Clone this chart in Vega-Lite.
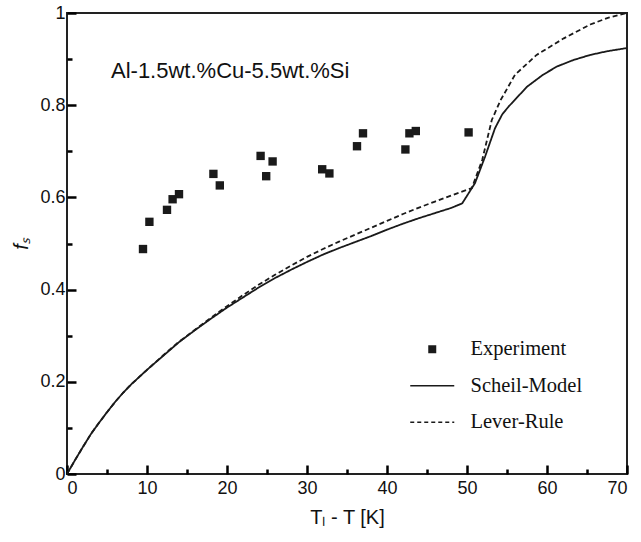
{
  "$schema": "https://vega.github.io/schema/vega-lite/v6.json",
  "autosize": "none",
  "width": 560,
  "height": 461,
  "padding": {"left": 67, "top": 13, "right": 14, "bottom": 68},
  "background": "white",
  "title": {
    "text": "Al-1.5wt.%Cu-5.5wt.%Si",
    "anchor": "start",
    "frame": "group",
    "orient": "top",
    "offset": 0,
    "dx": 44,
    "dy": 79,
    "font": "Liberation Sans",
    "fontSize": 22,
    "fontWeight": "normal",
    "color": "#111111"
  },
  "config": {
    "view": {"stroke": "#222222", "strokeWidth": 2}
  },
  "datasets": {
    "exp": [
      {"x": 9.5, "fs": 0.488},
      {"x": 10.3, "fs": 0.547},
      {"x": 12.5, "fs": 0.573},
      {"x": 13.2, "fs": 0.596},
      {"x": 14.0, "fs": 0.607},
      {"x": 18.3, "fs": 0.651},
      {"x": 19.1, "fs": 0.626},
      {"x": 24.2, "fs": 0.69},
      {"x": 24.9, "fs": 0.646},
      {"x": 25.7, "fs": 0.678},
      {"x": 31.9, "fs": 0.661},
      {"x": 32.8, "fs": 0.652},
      {"x": 36.25, "fs": 0.711},
      {"x": 37.0, "fs": 0.739},
      {"x": 42.3, "fs": 0.704},
      {"x": 42.8, "fs": 0.739},
      {"x": 43.6, "fs": 0.744},
      {"x": 50.2, "fs": 0.741}
    ],
    "curves": [
      {"series": "Scheil-Model", "x": 0, "fs": 0},
      {"series": "Scheil-Model", "x": 1, "fs": 0.03},
      {"series": "Scheil-Model", "x": 2, "fs": 0.059},
      {"series": "Scheil-Model", "x": 3, "fs": 0.087},
      {"series": "Scheil-Model", "x": 4, "fs": 0.111},
      {"series": "Scheil-Model", "x": 5, "fs": 0.134},
      {"series": "Scheil-Model", "x": 6, "fs": 0.156},
      {"series": "Scheil-Model", "x": 7, "fs": 0.176},
      {"series": "Scheil-Model", "x": 8, "fs": 0.194},
      {"series": "Scheil-Model", "x": 9, "fs": 0.21},
      {"series": "Scheil-Model", "x": 10, "fs": 0.226},
      {"series": "Scheil-Model", "x": 12, "fs": 0.256},
      {"series": "Scheil-Model", "x": 14, "fs": 0.286},
      {"series": "Scheil-Model", "x": 16, "fs": 0.312},
      {"series": "Scheil-Model", "x": 18, "fs": 0.337},
      {"series": "Scheil-Model", "x": 20, "fs": 0.361},
      {"series": "Scheil-Model", "x": 22, "fs": 0.383},
      {"series": "Scheil-Model", "x": 24, "fs": 0.405},
      {"series": "Scheil-Model", "x": 26, "fs": 0.425},
      {"series": "Scheil-Model", "x": 28, "fs": 0.443},
      {"series": "Scheil-Model", "x": 30, "fs": 0.46},
      {"series": "Scheil-Model", "x": 32, "fs": 0.476},
      {"series": "Scheil-Model", "x": 34, "fs": 0.49},
      {"series": "Scheil-Model", "x": 36, "fs": 0.503},
      {"series": "Scheil-Model", "x": 38, "fs": 0.516},
      {"series": "Scheil-Model", "x": 40, "fs": 0.53},
      {"series": "Scheil-Model", "x": 42, "fs": 0.543},
      {"series": "Scheil-Model", "x": 44, "fs": 0.555},
      {"series": "Scheil-Model", "x": 46, "fs": 0.566},
      {"series": "Scheil-Model", "x": 48, "fs": 0.577},
      {"series": "Scheil-Model", "x": 49.4, "fs": 0.587},
      {"series": "Scheil-Model", "x": 51, "fs": 0.631},
      {"series": "Scheil-Model", "x": 52.25, "fs": 0.688},
      {"series": "Scheil-Model", "x": 53.5, "fs": 0.75},
      {"series": "Scheil-Model", "x": 54.4, "fs": 0.78},
      {"series": "Scheil-Model", "x": 55.2, "fs": 0.797},
      {"series": "Scheil-Model", "x": 57.5, "fs": 0.84},
      {"series": "Scheil-Model", "x": 59.5, "fs": 0.866},
      {"series": "Scheil-Model", "x": 61.25, "fs": 0.884},
      {"series": "Scheil-Model", "x": 63.3, "fs": 0.898},
      {"series": "Scheil-Model", "x": 65.4, "fs": 0.909},
      {"series": "Scheil-Model", "x": 67.5, "fs": 0.917},
      {"series": "Scheil-Model", "x": 70, "fs": 0.924},
      {"series": "Lever-Rule", "x": 0, "fs": 0},
      {"series": "Lever-Rule", "x": 1, "fs": 0.03},
      {"series": "Lever-Rule", "x": 2, "fs": 0.059},
      {"series": "Lever-Rule", "x": 3, "fs": 0.087},
      {"series": "Lever-Rule", "x": 4, "fs": 0.111},
      {"series": "Lever-Rule", "x": 5, "fs": 0.134},
      {"series": "Lever-Rule", "x": 6, "fs": 0.156},
      {"series": "Lever-Rule", "x": 7, "fs": 0.176},
      {"series": "Lever-Rule", "x": 8, "fs": 0.194},
      {"series": "Lever-Rule", "x": 9, "fs": 0.21},
      {"series": "Lever-Rule", "x": 10, "fs": 0.226},
      {"series": "Lever-Rule", "x": 12, "fs": 0.257},
      {"series": "Lever-Rule", "x": 14, "fs": 0.287},
      {"series": "Lever-Rule", "x": 16, "fs": 0.313},
      {"series": "Lever-Rule", "x": 18, "fs": 0.339},
      {"series": "Lever-Rule", "x": 20, "fs": 0.364},
      {"series": "Lever-Rule", "x": 22, "fs": 0.388},
      {"series": "Lever-Rule", "x": 24, "fs": 0.411},
      {"series": "Lever-Rule", "x": 26, "fs": 0.432},
      {"series": "Lever-Rule", "x": 28, "fs": 0.452},
      {"series": "Lever-Rule", "x": 30, "fs": 0.471},
      {"series": "Lever-Rule", "x": 32, "fs": 0.488},
      {"series": "Lever-Rule", "x": 34, "fs": 0.504},
      {"series": "Lever-Rule", "x": 36, "fs": 0.519},
      {"series": "Lever-Rule", "x": 38, "fs": 0.534},
      {"series": "Lever-Rule", "x": 40, "fs": 0.549},
      {"series": "Lever-Rule", "x": 42, "fs": 0.564},
      {"series": "Lever-Rule", "x": 44, "fs": 0.578},
      {"series": "Lever-Rule", "x": 46, "fs": 0.591},
      {"series": "Lever-Rule", "x": 48, "fs": 0.604},
      {"series": "Lever-Rule", "x": 50.6, "fs": 0.62},
      {"series": "Lever-Rule", "x": 51.9, "fs": 0.681},
      {"series": "Lever-Rule", "x": 53.1, "fs": 0.768},
      {"series": "Lever-Rule", "x": 54.2, "fs": 0.811},
      {"series": "Lever-Rule", "x": 56.0, "fs": 0.866},
      {"series": "Lever-Rule", "x": 58.7, "fs": 0.909},
      {"series": "Lever-Rule", "x": 62.1, "fs": 0.945},
      {"series": "Lever-Rule", "x": 65.4, "fs": 0.975},
      {"series": "Lever-Rule", "x": 67.7, "fs": 0.99},
      {"series": "Lever-Rule", "x": 70, "fs": 1.0}
    ]
  },
  "encoding": {
    "x": {
      "field": "x", "type": "quantitative",
      "scale": {"domain": [0, 70], "nice": false, "zero": false},
      "axis": {
        "title": "Tₗ - T [K]",
        "domain": false,
        "grid": false,
        "values": [0,5,10,15,20,25,30,35,40,45,50,55,60,65,70],
        "labelExpr": "datum.value % 10 === 0 ? datum.label : ''",
        "tickSize": {"condition": {"test": "datum.value % 10 === 0", "value": -9}, "value": -5},
        "tickColor": "#000000",
        "tickWidth": 2.5,
        "labelFont": "Liberation Sans",
        "labelFontSize": 18,
        "labelColor": "#111111",
        "titleFont": "Liberation Sans",
        "titleFontSize": 20,
        "titleFontWeight": "normal",
        "titleColor": "#111111",
        "labelPadding": 14,
        "titlePadding": 10
      }
    },
    "y": {
      "field": "fs", "type": "quantitative",
      "scale": {"domain": [0, 1], "nice": false},
      "axis": {
        "title": "fₛ",
        "domain": false,
        "grid": false,
        "titleFontStyle": "italic",
        "titleAngle": -90,
        "values": [0,0.1,0.2,0.3,0.4,0.5,0.6,0.7,0.8,0.9,1],
        "format": "~g",
        "labelExpr": "round(datum.value*10) % 2 === 0 ? datum.label : ''",
        "tickSize": {"condition": {"test": "round(datum.value*10) % 2 === 0", "value": -9}, "value": -5},
        "tickColor": "#000000",
        "tickWidth": 2.5,
        "labelFont": "Liberation Sans",
        "labelFontSize": 18,
        "labelColor": "#111111",
        "titleFont": "Liberation Sans",
        "titleFontSize": 20,
        "titleFontWeight": "normal",
        "titleColor": "#111111",
        "labelPadding": 11,
        "titlePadding": 8
      }
    }
  },
  "layer": [
    {
      "data": {"name": "curves"},
      "mark": {"type": "line", "strokeWidth": 1.8, "clip": true},
      "encoding": {
        "detail": {"field": "series"},
        "color": {
          "field": "series", "type": "nominal",
          "scale": {"domain": ["Experiment", "Scheil-Model", "Lever-Rule"], "range": ["#1a1a1a", "#1a1a1a", "#1a1a1a"]},
          "legend": {
            "orient": "none",
            "legendX": 355,
            "legendY": 326,
            "title": null,
            "labelFont": "Liberation Serif",
            "labelFontSize": 20.5,
            "labelColor": "#111111",
            "labelOffset": 28,
            "symbolSize": 900,
            "rowPadding": 15.5,
            "encode": {
              "symbols": {
                "update": {
                  "shape": {"signal": "datum.value === 'Experiment' ? 'square' : 'stroke'"},
                  "size": {"signal": "datum.value === 'Experiment' ? 64 : 1936"},
                  "fill": {"signal": "datum.value === 'Experiment' ? '#1a1a1a' : 'transparent'"},
                  "stroke": {"value": "#1a1a1a"},
                  "strokeWidth": {"signal": "datum.value === 'Experiment' ? 0 : 1.5"},
                  "strokeDash": {"signal": "datum.value === 'Lever-Rule' ? [4,3] : [1,0]"}
                }
              }
            }
          }
        },
        "strokeDash": {
          "field": "series", "type": "nominal",
          "scale": {"domain": ["Scheil-Model", "Lever-Rule"], "range": [[1, 0], [5, 3]]},
          "legend": null
        }
      }
    },
    {
      "data": {"name": "exp"},
      "transform": [{"calculate": "'Experiment'", "as": "series"}],
      "mark": {"type": "point", "shape": "square", "filled": true, "size": 70, "opacity": 1},
      "encoding": {
        "color": {"field": "series", "type": "nominal"}
      }
    }
  ]
}
